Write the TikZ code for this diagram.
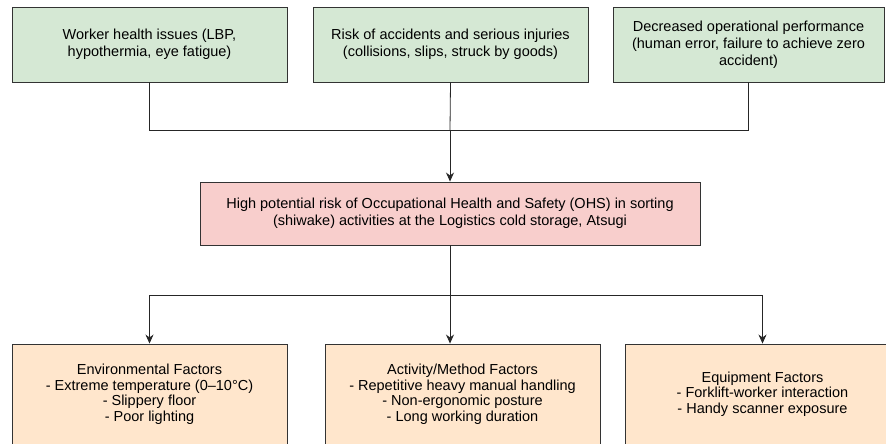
\documentclass[tikz,border=0pt]{standalone}
\usepackage{fontspec}
\setmainfont{Liberation Sans}
\usetikzlibrary{arrows.meta}
\definecolor{effectgreen}{HTML}{D5E8D4}
\definecolor{riskpink}{HTML}{F8CECC}
\definecolor{factororange}{HTML}{FFE6CC}
\begin{document}
\begin{tikzpicture}[x=1pt,y=-1pt,
  box/.style={draw=black!80,line width=0.9pt,inner sep=0pt,align=center,
    font=\fontsize{14.5}{17}\selectfont},
  effect/.style={box,fill=effectgreen,minimum width=275pt,minimum height=75pt},
  risk/.style={box,fill=riskpink,minimum width=500pt,minimum height=63pt},
  factor/.style={box,fill=factororange,minimum width=275pt,minimum height=100pt,
    font=\fontsize{14.5}{15.5}\selectfont},
  link/.style={line width=0.8pt,black!85},
  arr/.style={link,-{Stealth[length=9pt,width=8pt]}}]
\clip (0,0) rectangle (886,444);

\node[effect] (eff1) at (149.5,44.5) {Worker health issues (LBP,\\hypothermia, eye fatigue)};
\node[effect] (eff2) at (450.5,44.5) {Risk of accidents and serious injuries\\(collisions, slips, struck by goods)};
\node[effect,minimum width=271pt] (eff3) at (748.5,44.5) {Decreased operational performance\\(human error, failure to achieve zero\\accident)};

\node[risk] (ohs) at (450,213.5) {High potential risk of Occupational Health and Safety (OHS) in sorting\\(shiwake) activities at the Logistics cold storage, Atsugi};

\node[factor] (fac1) at (149.5,394) {Environmental Factors\\- Extreme temperature (0--10°C)\\- Slippery floor\\- Poor lighting};
\node[factor] (fac2) at (462.5,394) {Activity/Method Factors\\- Repetitive heavy manual handling\\- Non-ergonomic posture\\- Long working duration};
\node[factor] (fac3) at (762.5,394) {Equipment Factors\\- Forklift-worker interaction\\- Handy scanner exposure};

\coordinate (topjoin) at (450,130);
\coordinate (botjoin) at (450,295);

\draw[link] (eff1.south) |- (eff3.south |- topjoin) -- (eff3.south);
\draw[link] (eff2.south) -- (topjoin);
\draw[arr] (topjoin) -- (ohs.north);

\draw[link] (ohs.south) -- (botjoin);
\draw[arr] (botjoin) -| (fac1.north);
\draw[arr] (botjoin) -| (fac3.north);
\draw[arr] (botjoin) -- (botjoin |- fac2.north);
\end{tikzpicture}
\end{document}
